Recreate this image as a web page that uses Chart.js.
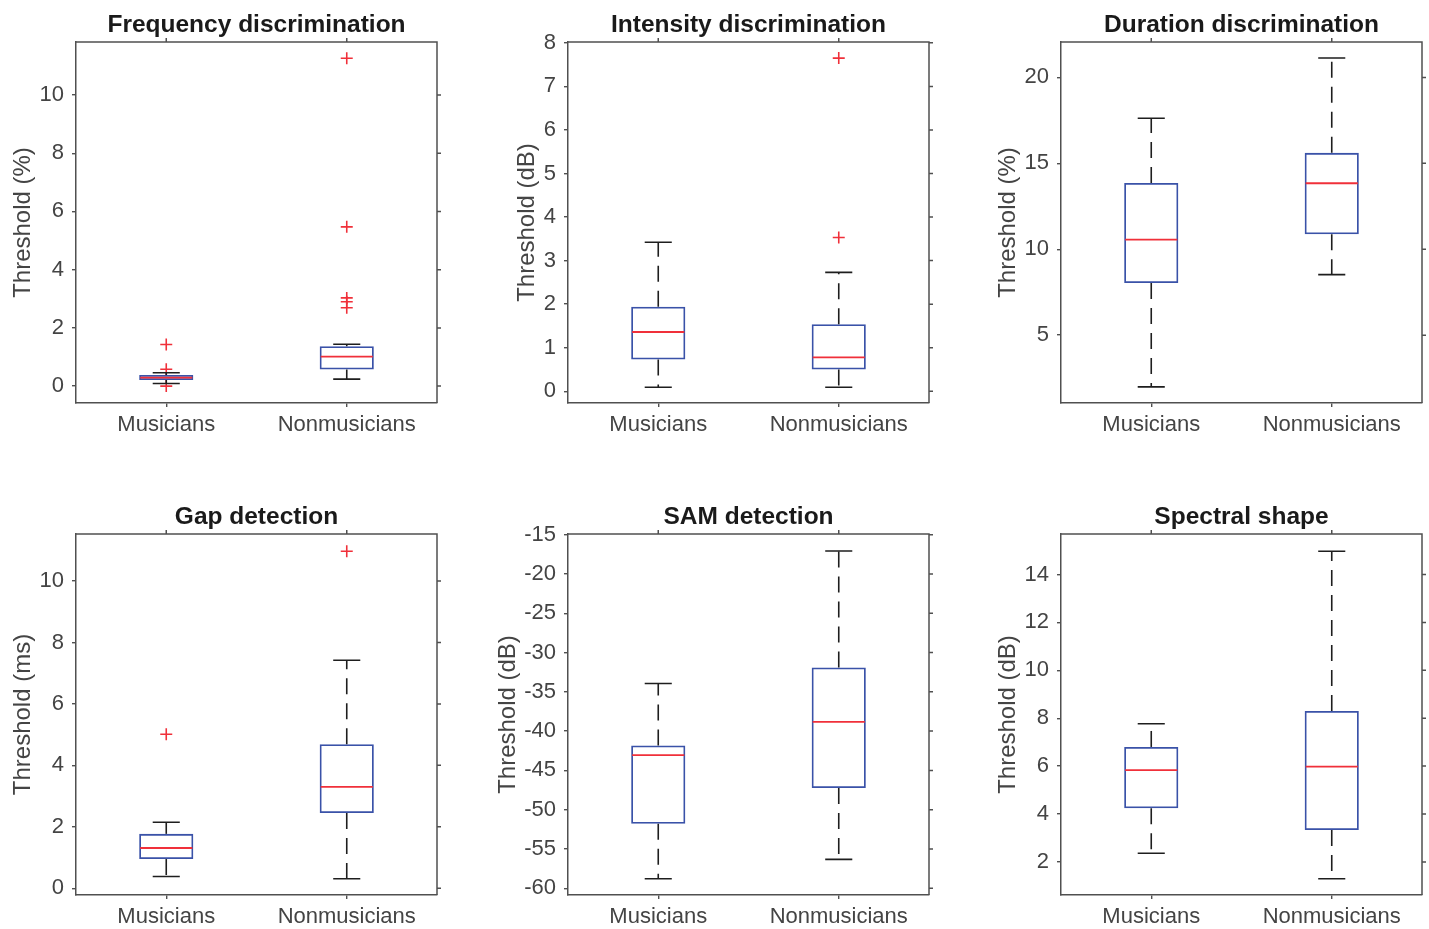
<!DOCTYPE html>
<html lang="en">
<head>
<meta charset="UTF-8">
<title>Psychoacoustic thresholds: musicians vs nonmusicians</title>
<script src="https://cdn.jsdelivr.net/npm/chart.js"></script>
<style>
    html, body { margin: 0; padding: 0; background: #fff; overflow: hidden; }
    body { width: 1429px; height: 929px; position: relative; }
    canvas { position: absolute; }
</style>
</head>
<body>
<script>
    // ---- data ----
    const groups = ['Musicians', 'Nonmusicians'];
    const titles = ['Frequency discrimination', 'Intensity discrimination', 'Duration discrimination',
                    'Gap detection', 'SAM detection', 'Spectral shape'];
    const yLabels = ['Threshold (%)', 'Threshold (dB)', 'Threshold (%)',
                     'Threshold (ms)', 'Threshold (dB)', 'Threshold (dB)'];
    const yTicks = [
        [0, 2, 4, 6, 8, 10],
        [0, 1, 2, 3, 4, 5, 6, 7, 8],
        [5, 10, 15, 20],
        [0, 2, 4, 6, 8, 10],
        [-60, -55, -50, -45, -40, -35, -30, -25, -20, -15],
        [2, 4, 6, 8, 10, 12, 14]
    ];
    const yLimits = [[-0.58, 11.82], [-0.27, 8.02], [1.05, 22.06], [-0.22, 11.53], [-60.85, -14.92], [0.62, 15.69]];

    // per panel: [Musicians, Nonmusicians]
    const lowerWhisker = [[0.09, 0.24], [0.09, 0.09], [1.99, 8.52], [0.38, 0.31], [-58.78, -56.32], [2.36, 1.30]];
    const q1 = [[0.21, 0.57], [0.73, 0.50], [8.03, 10.87], [0.95, 2.45], [-51.79, -47.25], [4.24, 3.33]];
    const medians = [[0.29, 1.01], [1.36, 0.78], [10.56, 13.84], [1.31, 3.30], [-43.05, -38.82], [5.83, 5.98]];
    const q3 = [[0.38, 1.37], [1.94, 1.54], [13.86, 15.61], [1.77, 4.69], [-41.82, -31.91], [6.80, 8.30]];
    const upperWhisker = [[0.46, 1.44], [3.42, 2.73], [17.62, 21.13], [2.15, 7.42], [-33.94, -17.08], [7.77, 14.97]];
    const outliers = [
        [[1.43, 0.58, 0.0], [11.26, 5.47, 3.03, 2.9, 2.69]],
        [[], [7.65, 3.53]],
        [[], []],
        [[5.01], [10.97]],
        [[], []],
        [[], []]
    ];

    // ---- styling ----
    const FONT = "'Liberation Sans', Arial, Helvetica, sans-serif";
    const AXIS = '#505050';
    const TEXT = '#444444';
    const BLUE = '#3a52a8';
    const RED = '#f0303a';
    const WHISKER = '#1e1e1e';

    const plotLefts = [76, 568, 1061];
    const plotTops = [42, 534];
    const PLOT = 361;
    const PAD_L = 80, PAD_T = 50, PAD_R = 10, PAD_B = 40;

    // whiskers, caps, medians + the mirrored top/right axes MATLAB draws
    function boxPlot(p) {
        return {
            id: 'boxPlot' + p,
            afterDatasetsDraw(chart) {
                const {ctx, scales: {x, y}} = chart;
                const unit = x.getPixelForValue(1) - x.getPixelForValue(0);
                const boxHalf = unit * 0.15, capHalf = unit * 0.075;
                ctx.save();
                groups.forEach((g, i) => {
                    const cx = x.getPixelForValue(i);
                    const yLo = y.getPixelForValue(lowerWhisker[p][i]);
                    const yHi = y.getPixelForValue(upperWhisker[p][i]);
                    const yQ1 = y.getPixelForValue(q1[p][i]);
                    const yQ3 = y.getPixelForValue(q3[p][i]);
                    const yMed = y.getPixelForValue(medians[p][i]);

                    ctx.strokeStyle = WHISKER;
                    ctx.lineWidth = 1.6;
                    ctx.setLineDash([16, 9]);
                    ctx.beginPath();
                    ctx.moveTo(cx, yQ3);
                    ctx.lineTo(cx, yHi);
                    ctx.stroke();
                    ctx.beginPath();
                    ctx.moveTo(cx, yQ1);
                    ctx.lineTo(cx, yLo);
                    ctx.stroke();
                    ctx.setLineDash([]);

                    ctx.beginPath();
                    ctx.moveTo(cx - capHalf, yHi);
                    ctx.lineTo(cx + capHalf, yHi);
                    ctx.moveTo(cx - capHalf, yLo);
                    ctx.lineTo(cx + capHalf, yLo);
                    ctx.stroke();

                    ctx.strokeStyle = RED;
                    ctx.lineWidth = 1.8;
                    ctx.beginPath();
                    ctx.moveTo(cx - boxHalf + 1, yMed);
                    ctx.lineTo(cx + boxHalf - 1, yMed);
                    ctx.stroke();
                });
                ctx.restore();
            },
            afterDraw(chart) {
                const {ctx, chartArea: a, scales: {x, y}} = chart;
                ctx.save();
                ctx.strokeStyle = AXIS;
                ctx.lineWidth = 1.5;
                ctx.beginPath();
                ctx.moveTo(a.left, a.top);
                ctx.lineTo(a.right, a.top);
                ctx.lineTo(a.right, a.bottom);
                x.ticks.forEach((t, k) => {
                    const px = x.getPixelForTick(k);
                    ctx.moveTo(px, a.top);
                    ctx.lineTo(px, a.top - 4);
                });
                y.ticks.forEach(t => {
                    const py = y.getPixelForValue(t.value);
                    ctx.moveTo(a.right, py);
                    ctx.lineTo(a.right + 4, py);
                });
                ctx.stroke();
                ctx.restore();
            }
        };
    }

    function makePanel(p) {
        const col = p % 3, row = Math.floor(p / 3);
        const canvas = document.createElement('canvas');
        canvas.width = PAD_L + PLOT + PAD_R;
        canvas.height = PAD_T + PLOT + PAD_B;
        canvas.style.left = (plotLefts[col] - PAD_L) + 'px';
        canvas.style.top = (plotTops[row] - PAD_T) + 'px';
        document.body.appendChild(canvas);

        const outlierPoints = [];
        groups.forEach((g, i) => outliers[p][i].forEach(v => outlierPoints.push({x: g, y: v})));

        const chart = new Chart(canvas, {
            type: 'bar',
            data: {
                labels: groups,
                datasets: [
                    {
                        type: 'bar',
                        data: groups.map((g, i) => [q1[p][i], q3[p][i]]),
                        backgroundColor: 'rgba(0,0,0,0)',
                        borderColor: BLUE,
                        borderWidth: 1.8,
                        borderSkipped: false,
                        barPercentage: 0.3,
                        categoryPercentage: 1
                    },
                    {
                        type: 'line',
                        data: outlierPoints,
                        showLine: false,
                        pointStyle: 'cross',
                        pointRadius: 6,
                        pointBorderWidth: 1.6,
                        pointBorderColor: RED,
                        borderColor: RED
                    }
                ]
            },
            options: {
                responsive: false,
                animation: false,
                devicePixelRatio: 1,
                layout: { autoPadding: false, padding: { left: 0, top: 0, right: 0, bottom: 0 } },
                plugins: {
                    legend: { display: false },
                    tooltip: { enabled: false },
                    title: {
                        display: true,
                        text: titles[p],
                        fullSize: false,
                        color: '#1a1a1a',
                        font: { family: FONT, size: 24.5, weight: 'bold', lineHeight: 1.2 },
                        padding: { top: 4, bottom: 2 }
                    }
                },
                scales: {
                    x: {
                        type: 'category',
                        offset: true,
                        grid: { offset: false, drawOnChartArea: false, tickLength: 4, color: AXIS, lineWidth: 1.4 },
                        border: { color: AXIS, width: 1.5 },
                        ticks: { font: { family: FONT, size: 22 }, color: TEXT, padding: 5, maxRotation: 0, autoSkip: false }
                    },
                    y: {
                        type: 'linear',
                        min: yLimits[p][0],
                        max: yLimits[p][1],
                        bounds: 'data',
                        afterBuildTicks: s => { s.ticks = yTicks[p].map(v => ({ value: v })); },
                        grid: { drawOnChartArea: false, tickLength: 4, color: AXIS, lineWidth: 1.4 },
                        border: { color: AXIS, width: 1.5 },
                        ticks: { font: { family: FONT, size: 22 }, color: TEXT, padding: 8 },
                        title: {
                            display: true,
                            text: yLabels[p],
                            color: TEXT,
                            font: { family: FONT, size: 24, lineHeight: 1.2 },
                            // MATLAB sets the label tighter to the tick numbers than Chart.js does
                            padding: { top: 0, bottom: -6.5 }
                        }
                    }
                }
            },
            plugins: [boxPlot(p)]
        });

        // nudge the layout padding so the plot box lands where the figure has it
        for (let k = 0; k < 3; k++) {
            const a = chart.chartArea;
            const pad = chart.options.layout.padding;
            chart.options.layout.padding = {
                left: pad.left + PAD_L - a.left,
                top: pad.top + PAD_T - a.top,
                right: pad.right + a.right - (PAD_L + PLOT),
                bottom: pad.bottom + a.bottom - (PAD_T + PLOT)
            };
            chart.update();
        }
    }

    for (let p = 0; p < 6; p++) makePanel(p);
</script>
</body>
</html>
